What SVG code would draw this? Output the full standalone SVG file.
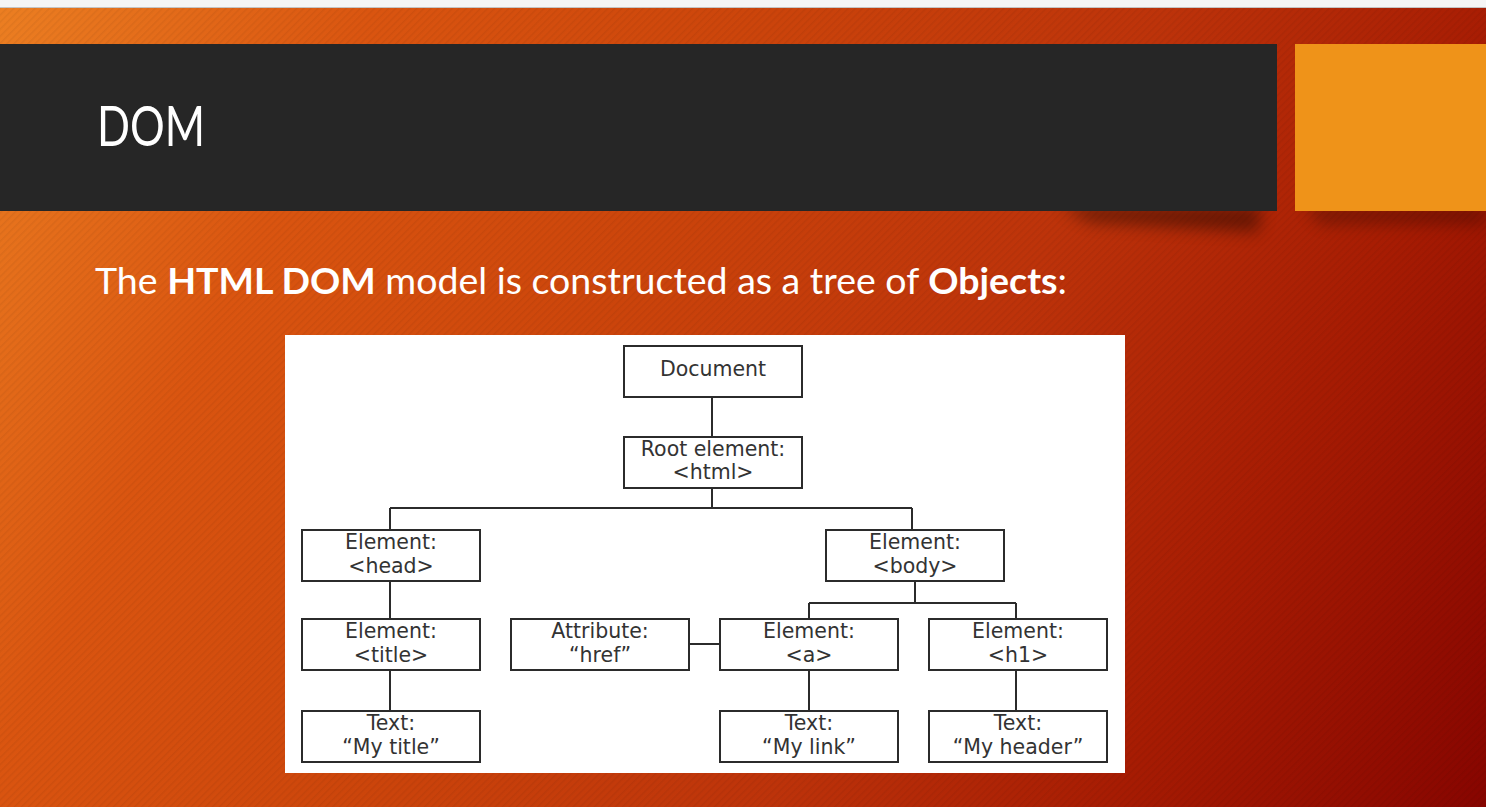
<svg xmlns="http://www.w3.org/2000/svg" width="1486" height="807" viewBox="0 0 1486 807">
  <defs>
    <linearGradient id="bg" gradientUnits="userSpaceOnUse" x1="0" y1="0" x2="1511" y2="755">
      <stop offset="0" stop-color="#ec7f22"/>
      <stop offset="0.2" stop-color="#da5510"/>
      <stop offset="0.4" stop-color="#cc450b"/>
      <stop offset="0.62" stop-color="#bd330a"/>
      <stop offset="0.8" stop-color="#a71c03"/>
      <stop offset="1" stop-color="#870500"/>
    </linearGradient>
    <pattern id="stripes" width="5" height="5" patternUnits="userSpaceOnUse" patternTransform="rotate(-45)">
      <rect x="0" y="0" width="5" height="1.5" fill="#000" opacity="0.05"/>
    </pattern>
    <filter id="soft" x="-20%" y="-200%" width="140%" height="500%">
      <feGaussianBlur stdDeviation="8"/>
    </filter>
  </defs>
  <style>
    .node rect { fill: #fff; stroke: #2b2b2b; stroke-width: 2; }
    .node text { font-family: "DejaVu Sans", Verdana, sans-serif; font-size: 20.5px; fill: #333333; text-anchor: middle; }
    #connectors path { fill: none; stroke: #2b2b2b; stroke-width: 2; }
    .slide { font-family: Lato, "Open Sans", sans-serif; fill: #ffffff; }
  </style>

  <!-- slide background -->
  <rect x="0" y="0" width="1486" height="807" fill="url(#bg)"/>
  <rect x="0" y="0" width="1486" height="807" fill="url(#stripes)"/>
  <rect x="0" y="0" width="1486" height="7" fill="#f5f5f5"/>
  <rect x="0" y="7" width="1486" height="1" fill="#c4c4c4"/>

  <!-- title bar shadows -->
  <path d="M1060 206 L1262 206 L1258 232 L1090 222 Z" fill="#000" opacity="0.4" filter="url(#soft)"/>
  <path d="M1305 206 L1486 206 L1486 224 L1320 224 Z" fill="#000" opacity="0.28" filter="url(#soft)"/>

  <!-- title bar -->
  <rect x="0" y="44" width="1277" height="167" fill="#262626"/>
  <rect x="1295" y="44" width="191" height="167" fill="#ef9319"/>
  <text class="slide" x="97" y="146" font-size="56" textLength="108" lengthAdjust="spacingAndGlyphs">DOM</text>

  <!-- body text -->
  <text class="slide" x="95" y="294" font-size="37" textLength="972" lengthAdjust="spacingAndGlyphs">The <tspan font-weight="bold">HTML DOM</tspan> model is constructed as a tree of <tspan font-weight="bold">Objects</tspan>:</text>

  <!-- figure panel -->
  <rect x="285" y="335" width="840" height="438" fill="#ffffff"/>

  <g id="connectors">
    <path d="M712 397 V437"/>
    <path d="M712 488 V508 M390 508 H912 M390 508 V530 M912 508 V530"/>
    <path d="M390 581 V619"/>
    <path d="M390 670 V711"/>
    <path d="M915 581 V603 M809 603 H1016 M809 603 V619 M1016 603 V619"/>
    <path d="M689 644 H720"/>
    <path d="M809 670 V711"/>
    <path d="M1016 670 V711"/>
  </g>

  <g id="node-document" class="node">
    <rect x="624" y="346" width="178" height="51"/>
    <text x="713" y="376">Document</text>
  </g>
  <g id="node-html" class="node">
    <rect x="624" y="437" width="178" height="51"/>
    <text x="713" y="456">Root element:</text>
    <text x="713" y="479">&lt;html&gt;</text>
  </g>
  <g id="node-head" class="node">
    <rect x="302" y="530" width="178" height="51"/>
    <text x="391" y="549">Element:</text>
    <text x="391" y="573">&lt;head&gt;</text>
  </g>
  <g id="node-body" class="node">
    <rect x="826" y="530" width="178" height="51"/>
    <text x="915" y="549">Element:</text>
    <text x="915" y="573">&lt;body&gt;</text>
  </g>
  <g id="node-title" class="node">
    <rect x="302" y="619" width="178" height="51"/>
    <text x="391" y="638">Element:</text>
    <text x="391" y="662">&lt;title&gt;</text>
  </g>
  <g id="node-href" class="node">
    <rect x="511" y="619" width="178" height="51"/>
    <text x="600" y="638">Attribute:</text>
    <text x="600" y="662">“href”</text>
  </g>
  <g id="node-a" class="node">
    <rect x="720" y="619" width="178" height="51"/>
    <text x="809" y="638">Element:</text>
    <text x="809" y="662">&lt;a&gt;</text>
  </g>
  <g id="node-h1" class="node">
    <rect x="929" y="619" width="178" height="51"/>
    <text x="1018" y="638">Element:</text>
    <text x="1018" y="662">&lt;h1&gt;</text>
  </g>
  <g id="node-text-title" class="node">
    <rect x="302" y="711" width="178" height="51"/>
    <text x="391" y="730">Text:</text>
    <text x="391" y="754">“My title”</text>
  </g>
  <g id="node-text-link" class="node">
    <rect x="720" y="711" width="178" height="51"/>
    <text x="809" y="730">Text:</text>
    <text x="809" y="754">“My link”</text>
  </g>
  <g id="node-text-header" class="node">
    <rect x="929" y="711" width="178" height="51"/>
    <text x="1018" y="730">Text:</text>
    <text x="1018" y="754">“My header”</text>
  </g>
</svg>
